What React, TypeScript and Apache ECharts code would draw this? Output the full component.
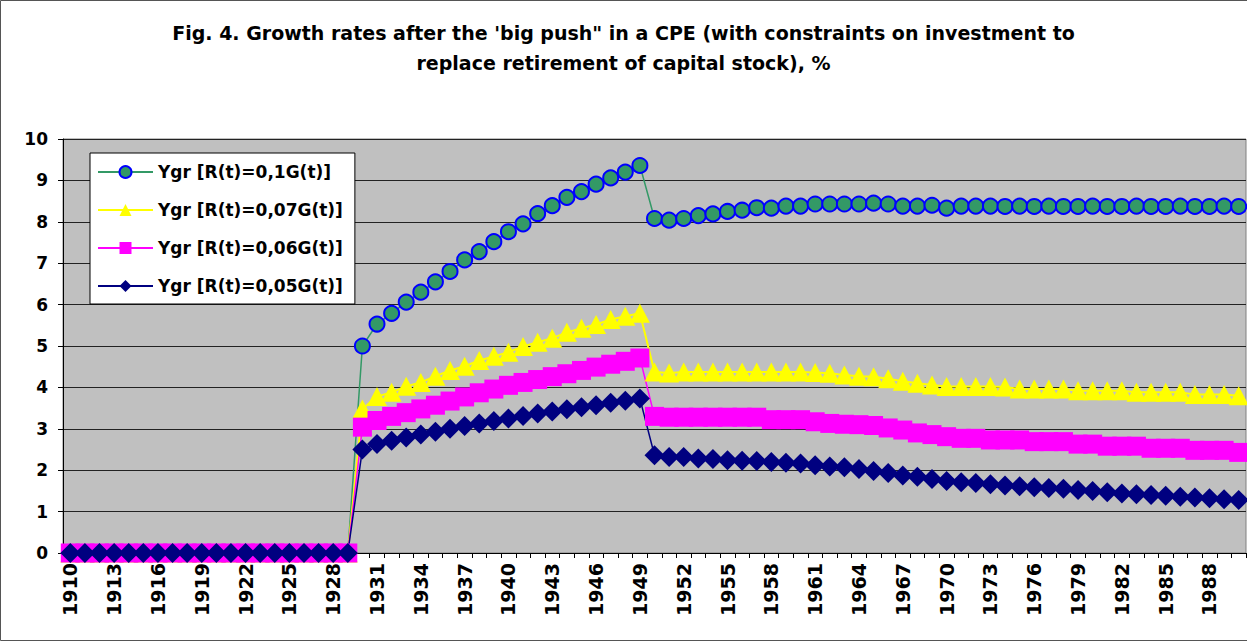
import React, { useEffect, useRef } from "react";
import * as echarts from "echarts";

const years: string[] = [
  "1910","1911","1912","1913","1914","1915","1916","1917","1918","1919",
  "1920","1921","1922","1923","1924","1925","1926","1927","1928","1929",
  "1930","1931","1932","1933","1934","1935","1936","1937","1938","1939",
  "1940","1941","1942","1943","1944","1945","1946","1947","1948","1949",
  "1950","1951","1952","1953","1954","1955","1956","1957","1958","1959",
  "1960","1961","1962","1963","1964","1965","1966","1967","1968","1969",
  "1970","1971","1972","1973","1974","1975","1976","1977","1978","1979",
  "1980","1981","1982","1983","1984","1985","1986","1987","1988","1989",
  "1990",
];

const titleLines: string[] = [
  "Fig. 4. Growth rates after the 'big push\" in a CPE (with constraints on investment to",
  "replace retirement of capital stock), %",
];

const seriesNames: string[] = [
  "Ygr [R(t)=0,1G(t)]",
  "Ygr [R(t)=0,07G(t)]",
  "Ygr [R(t)=0,06G(t)]",
  "Ygr [R(t)=0,05G(t)]",
];

const ygr010: number[] = [
  0, 0, 0, 0, 0, 0, 0, 0, 0, 0, 0, 0, 0, 0, 0, 0, 0, 0, 0, 0,
  5.0, 5.53, 5.79, 6.06, 6.3, 6.55, 6.8, 7.08, 7.28, 7.52,
  7.76, 7.95, 8.2, 8.39, 8.59, 8.73, 8.91, 9.06, 9.2, 9.36,
  8.08, 8.04, 8.08, 8.15, 8.19, 8.25, 8.28, 8.34, 8.33, 8.38,
  8.38, 8.43, 8.43, 8.43, 8.43, 8.45, 8.43, 8.38, 8.38, 8.4,
  8.33, 8.38, 8.38, 8.38, 8.37, 8.38, 8.37, 8.38, 8.37, 8.37,
  8.38, 8.37, 8.37, 8.38, 8.37, 8.37, 8.38, 8.37, 8.37, 8.38,
  8.37,
];

const ygr007: number[] = [
  0, 0, 0, 0, 0, 0, 0, 0, 0, 0, 0, 0, 0, 0, 0, 0, 0, 0, 0, 0,
  3.48, 3.78, 3.88, 4.03, 4.12, 4.27, 4.41, 4.51, 4.65, 4.75,
  4.85, 4.99, 5.09, 5.19, 5.33, 5.43, 5.52, 5.64, 5.72, 5.79,
  4.37, 4.35, 4.37, 4.37, 4.37, 4.37, 4.37, 4.37, 4.37, 4.37,
  4.37, 4.36, 4.34, 4.3, 4.27, 4.26, 4.21, 4.15, 4.1, 4.06,
  4.02, 4.02, 4.02, 4.02, 4.01, 3.96, 3.96, 3.96, 3.96, 3.92,
  3.92, 3.92, 3.92, 3.88, 3.88, 3.88, 3.88, 3.83, 3.83, 3.83,
  3.8,
];

const ygr006: number[] = [
  0, 0, 0, 0, 0, 0, 0, 0, 0, 0, 0, 0, 0, 0, 0, 0, 0, 0, 0, 0,
  3.04, 3.2, 3.3, 3.39, 3.48, 3.57, 3.67, 3.77, 3.87, 3.96,
  4.05, 4.12, 4.19, 4.26, 4.33, 4.41, 4.49, 4.56, 4.63, 4.71,
  3.3, 3.28, 3.28, 3.28, 3.28, 3.28, 3.28, 3.28, 3.22, 3.22,
  3.22, 3.17, 3.13, 3.11, 3.1, 3.08, 3.02, 2.97, 2.9, 2.86,
  2.81, 2.77, 2.77, 2.73, 2.73, 2.73, 2.69, 2.69, 2.69, 2.63,
  2.63, 2.58, 2.58, 2.58, 2.53, 2.53, 2.53, 2.48, 2.48, 2.48,
  2.43,
];

const ygr005: number[] = [
  0, 0, 0, 0, 0, 0, 0, 0, 0, 0, 0, 0, 0, 0, 0, 0, 0, 0, 0, 0,
  2.5, 2.63, 2.71, 2.79, 2.86, 2.93, 3.0, 3.07, 3.13, 3.19,
  3.25, 3.31, 3.37, 3.42, 3.47, 3.52, 3.57, 3.63, 3.68, 3.73,
  2.36, 2.32, 2.32, 2.28, 2.27, 2.24, 2.23, 2.22, 2.2, 2.18,
  2.16, 2.12, 2.09, 2.07, 2.03, 1.98, 1.93, 1.87, 1.84, 1.79,
  1.74, 1.71, 1.69, 1.66, 1.63, 1.61, 1.59, 1.57, 1.55, 1.52,
  1.5, 1.47, 1.44, 1.42, 1.4, 1.38, 1.36, 1.34, 1.32, 1.3,
  1.28,
];

const yTicks = { min: 0, max: 10, interval: 1 };

const FONT = "DejaVu Sans";

const titleStyle = {
  fontFamily: FONT,
  fontSize: 19,
  fontWeight: "bold",
  color: "#000",
};

export default function App() {
  const ref = useRef<HTMLDivElement>(null);

  useEffect(() => {
    if (!ref.current) return;
    const chart = echarts.init(ref.current, undefined, { renderer: "svg" });
    chart.setOption({
      animation: false,
      backgroundColor: "#ffffff",
      title: [
        { text: titleLines[0], left: "center", top: 23, padding: 0, textStyle: titleStyle },
        { text: titleLines[1], left: "center", top: 53, padding: 0, textStyle: titleStyle },
      ],
      graphic: [
        {
          type: "rect",
          shape: { x: 0.5, y: 0.5, width: 1300, height: 640 },
          style: { fill: "none", stroke: "#555", lineWidth: 1 },
          silent: true,
        },
      ],
      legend: {
        orient: "vertical",
        left: 90,
        top: 153,
        padding: [9, 12, 8, 7],
        backgroundColor: "#ffffff",
        borderColor: "#000",
        borderWidth: 1,
        borderRadius: 0,
        itemWidth: 55,
        itemHeight: 15,
        itemGap: 18,
        textStyle: {
          fontFamily: FONT,
          fontSize: 17,
          fontWeight: "bold",
          color: "#000",
          lineHeight: 20,
        },
        data: seriesNames,
      },
      grid: {
        left: 63,
        top: 139,
        width: 1183,
        height: 414,
        show: true,
        backgroundColor: "#C0C0C0",
        borderColor: "#808080",
        borderWidth: 1,
      },
      xAxis: {
        type: "category",
        data: years,
        boundaryGap: true,
        axisLine: { show: true, lineStyle: { color: "#000", width: 1 } },
        axisTick: {
          show: true,
          interval: 0,
          length: 5,
          alignWithLabel: false,
          lineStyle: { color: "#000" },
        },
        axisLabel: {
          interval: 2,
          rotate: 90,
          margin: 10,
          fontFamily: FONT,
          fontSize: 19,
          fontWeight: "bold",
          color: "#000",
        },
        splitLine: { show: false },
      },
      yAxis: {
        type: "value",
        min: yTicks.min,
        max: yTicks.max,
        interval: yTicks.interval,
        axisLine: { show: true, lineStyle: { color: "#000", width: 1 } },
        axisTick: { show: true, length: 5, lineStyle: { color: "#000" } },
        axisLabel: {
          margin: 15,
          fontFamily: FONT,
          fontSize: 17,
          fontWeight: "bold",
          color: "#000",
        },
        splitLine: { show: true, lineStyle: { color: "#222", width: 1 } },
      },
      series: [
        {
          name: seriesNames[0],
          type: "line",
          data: ygr010,
          symbol: "circle",
          symbolSize: 15,
          showAllSymbol: true,
          lineStyle: { color: "#339966", width: 1.5 },
          itemStyle: { color: "#339966", borderColor: "#0000FF", borderWidth: 2 },
        },
        {
          name: seriesNames[1],
          type: "line",
          data: ygr007,
          symbol: "triangle",
          symbolSize: [20, 19],
          showAllSymbol: true,
          lineStyle: { color: "#FFFF00", width: 2 },
          itemStyle: { color: "#FFFF00" },
        },
        {
          name: seriesNames[2],
          type: "line",
          data: ygr006,
          symbol: "rect",
          symbolSize: 19,
          showAllSymbol: true,
          lineStyle: { color: "#FF00FF", width: 1.5 },
          itemStyle: { color: "#FF00FF" },
        },
        {
          name: seriesNames[3],
          type: "line",
          data: ygr005,
          symbol: "diamond",
          symbolSize: 20,
          showAllSymbol: true,
          lineStyle: { color: "#000080", width: 1.5 },
          itemStyle: { color: "#000080" },
        },
      ],
    });
    return () => chart.dispose();
  }, []);

  return (
    <div
      ref={ref}
      style={{ position: "absolute", left: 0, top: 0, width: 1247, height: 641 }}
    />
  );
}
